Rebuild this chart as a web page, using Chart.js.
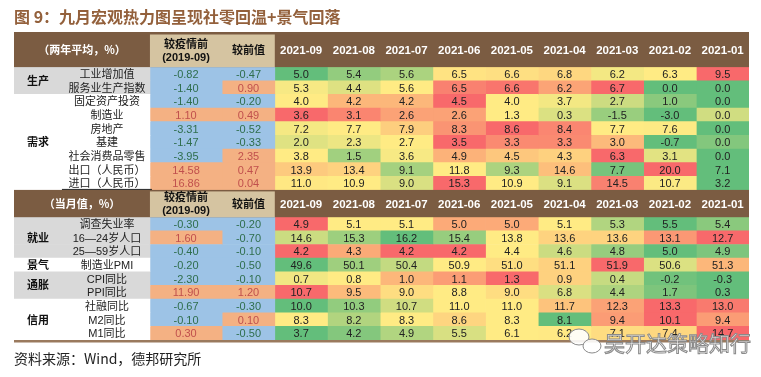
<!DOCTYPE html>
<html>
<head>
<meta charset="utf-8">
<script src="https://cdn.jsdelivr.net/npm/chart.js@4.4.1/dist/chart.umd.min.js"></script>
<style>
  html, body { margin: 0; padding: 0; background: #fff; }
  canvas { display: block; }
</style>
</head>
<body>
<canvas id="heat" width="761" height="377"></canvas>
<script>
// ---- data ----
const months = ['2021-09', '2021-08', '2021-07', '2021-06', '2021-05', '2021-04', '2021-03', '2021-02', '2021-01'];

const groups1 = ['生产', '需求'];
const groupSizes1 = [2, 7];
const items1 = ['工业增加值', '服务业生产指数', '固定资产投资', '制造业', '房地产', '基建', '社会消费品零售', '出口（人民币）', '进口（人民币）'];
const vsPre1 = [-0.82, -1.40, -1.40, 1.10, -3.31, -1.47, -3.95, 14.58, 16.86];
const vsPrev1 = [-0.47, 0.90, -0.20, 0.49, -0.52, -0.33, 2.35, 0.47, 0.04];
const heat1 = [
  [5.0, 5.4, 5.6, 6.5, 6.6, 6.8, 6.2, 6.3, 9.5],
  [5.3, 4.4, 5.6, 6.5, 6.6, 6.2, 6.7, 0.0, 0.0],
  [4.0, 4.2, 4.2, 4.5, 4.0, 3.7, 2.7, 1.0, 0.0],
  [3.6, 3.1, 2.6, 2.6, 1.3, 0.3, -1.5, -3.0, 0.0],
  [7.2, 7.7, 7.9, 8.3, 8.6, 8.4, 7.7, 7.6, 0.0],
  [2.0, 2.3, 2.7, 3.5, 3.3, 3.3, 3.0, -0.7, 0.0],
  [3.8, 1.5, 3.6, 4.9, 4.5, 4.3, 6.3, 3.1, 0.0],
  [13.9, 13.4, 9.1, 11.8, 9.3, 14.6, 7.7, 20.0, 7.1],
  [11.0, 10.9, 9.0, 15.3, 10.9, 9.1, 14.5, 10.7, 3.2]
];

const groups2 = ['就业', '景气', '通胀', '信用'];
const groupSizes2 = [3, 1, 2, 3];
const items2 = ['调查失业率', '16—24岁人口', '25—59岁人口', '制造业PMI', 'CPI同比', 'PPI同比', '社融同比', 'M2同比', 'M1同比'];
const vsPre2 = [-0.30, 1.60, -0.40, -0.20, -2.30, 11.90, -0.67, -0.10, 0.30];
const vsPrev2 = [-0.20, -0.70, -0.10, -0.50, -0.10, 1.20, -0.30, 0.10, -0.50];
const heat2 = [
  [4.9, 5.1, 5.1, 5.0, 5.0, 5.1, 5.3, 5.5, 5.4],
  [14.6, 15.3, 16.2, 15.4, 13.8, 13.6, 13.6, 13.1, 12.7],
  [4.2, 4.3, 4.2, 4.2, 4.4, 4.6, 4.8, 5.0, 4.9],
  [49.6, 50.1, 50.4, 50.9, 51.0, 51.1, 51.9, 50.6, 51.3],
  [0.7, 0.8, 1.0, 1.1, 1.3, 0.9, 0.4, -0.2, -0.3],
  [10.7, 9.5, 9.0, 8.8, 9.0, 6.8, 4.4, 1.7, 0.3],
  [10.0, 10.3, 10.7, 11.0, 11.0, 11.7, 12.3, 13.3, 13.0],
  [8.3, 8.2, 8.3, 8.6, 8.3, 8.1, 9.4, 10.1, 9.4],
  [3.7, 4.2, 4.9, 5.5, 6.1, 6.2, 7.1, 7.4, 14.7]
];
// unemployment rows: a low value is coloured red
const lowIsRed2 = [true, true, true, false, false, false, false, false, false];

// ---- layout: x in month-column units, y in row units ----
const X_CAT = 0, X_SUB = 0.91, X_PRE = 2.58, X_PREV = 3.95, X_MON = 4.95;
const X_END = X_MON + months.length;
const HEAD1 = [0, 2.5], HEAD2 = [11.5, 13.5];
const Y_END = HEAD2[1] + items2.length;

const BROWN = '#7b5c42', TAN = '#d5c4a1', GREY = '#d9d9d9';
const GREEN = [99, 190, 123], YELLOW = [255, 235, 132], RED = [248, 105, 107];
const FONT = '"Liberation Sans", "Noto Sans CJK SC", sans-serif';
const CJK = '"Noto Sans CJK SC", sans-serif';

function mix(a, b, t) {
  return 'rgb(' + a.map((v, i) => Math.round(v + (b[i] - v) * t)).join(',') + ')';
}
function heatColor(vals, v, lowIsRed) {
  const s = vals.slice().sort((a, b) => a - b);
  const lo = s[0], hi = s[s.length - 1], mid = s[Math.floor(s.length / 2)];
  const lowC = lowIsRed ? RED : GREEN, highC = lowIsRed ? GREEN : RED;
  if (v <= mid) return mid === lo ? mix(YELLOW, YELLOW, 0) : mix(lowC, YELLOW, (v - lo) / (mid - lo));
  return mix(YELLOW, highC, (v - mid) / (hi - mid));
}

function buildRows(items, groups, sizes, pre, prev, heat, lowIsRed, top) {
  const rows = [];
  let g = 0, n = 0;
  items.forEach((item, i) => {
    rows.push({ item, pre: pre[i], prev: prev[i], vals: heat[i], lowIsRed: lowIsRed ? lowIsRed[i] : false,
      y: top + i + 0.5, shaded: g % 2 === 0 });
    n++;
    if (n === sizes[g]) { g++; n = 0; }
  });
  return rows;
}
const rows = buildRows(items1, groups1, groupSizes1, vsPre1, vsPrev1, heat1, null, HEAD1[1])
  .concat(buildRows(items2, groups2, groupSizes2, vsPre2, vsPrev2, heat2, lowIsRed2, HEAD2[1]));

const signColor = v => v < 0 ? '#9dc3e6' : '#f4b183';

const datasets = [
  { data: rows.map(r => ({ y: r.y, x: [X_CAT, X_PRE] })), backgroundColor: rows.map(r => r.shaded ? GREY : '#ffffff') },
  { data: rows.map(r => ({ y: r.y, x: [X_PRE, X_PREV] })), backgroundColor: rows.map(r => signColor(r.pre)) },
  { data: rows.map(r => ({ y: r.y, x: [X_PREV, X_MON] })), backgroundColor: rows.map(r => signColor(r.prev)) }
];
months.forEach((m, j) => {
  datasets.push({
    data: rows.map(r => ({ y: r.y, x: [X_MON + j, X_MON + j + 1] })),
    backgroundColor: rows.map(r => heatColor(r.vals, r.vals[j], r.lowIsRed))
  });
});

// text centred vertically on y, using the alphabetic baseline so CJK and Latin line up
function text(ctx, str, x, y, size, family, color, opts) {
  opts = opts || {};
  ctx.font = (opts.bold ? 'bold ' : '') + size + 'px ' + family;
  ctx.fillStyle = color;
  ctx.textAlign = opts.align || 'center';
  ctx.textBaseline = 'alphabetic';
  ctx.fillText(str, x, y + size * 0.37);
}

const tablePlugin = {
  id: 'table',
  afterDatasetsDraw(chart) {
    const { ctx, scales: { x, y } } = chart;
    const px = v => x.getPixelForValue(v), py = v => y.getPixelForValue(v);
    ctx.save();

    // header bands
    [[HEAD1, '（两年平均，%）'], [HEAD2, '（当月值，%）']].forEach(([h, label]) => {
      const y0 = py(h[0]), y1 = py(h[1]), ym = (y0 + y1) / 2;
      ctx.fillStyle = BROWN;
      ctx.fillRect(px(X_CAT), y0, px(X_END) - px(X_CAT), y1 - y0);
      ctx.fillStyle = TAN;
      ctx.fillRect(px(X_PRE), y0 + 1.5, px(X_MON) - px(X_PRE), y1 - y0 - 1.5);
      text(ctx, label, px((X_CAT + X_PRE) / 2), ym, 11, CJK, '#fff', { bold: true });
      text(ctx, '较疫情前', px((X_PRE + X_PREV) / 2), ym - 6.5, 11, CJK, '#111', { bold: true });
      text(ctx, '(2019-09)', px((X_PRE + X_PREV) / 2), ym + 6.5, 11, FONT, '#111', { bold: true });
      text(ctx, '较前值', px((X_PREV + X_MON) / 2), ym, 11, CJK, '#111', { bold: true });
      months.forEach((m, j) => text(ctx, m, px(X_MON + j + 0.5), ym, 11.5, FONT, '#fff', { bold: true }));
    });

    // group labels
    [[groups1, groupSizes1, HEAD1[1]], [groups2, groupSizes2, HEAD2[1]]].forEach(([gs, sizes, top]) => {
      let start = top;
      gs.forEach((g, i) => {
        text(ctx, g, px((X_CAT + X_SUB) / 2), py(start + sizes[i] / 2), 11, CJK, '#111', { bold: true });
        start += sizes[i];
      });
    });

    // row labels and values
    rows.forEach(r => {
      const yy = py(r.y);
      text(ctx, r.item, px((X_SUB + X_PRE) / 2) + 1, yy, 11, FONT, '#222');
      text(ctx, r.pre.toFixed(2), px((X_PRE + X_PREV) / 2), yy, 11, FONT, r.pre < 0 ? '#2f6e4d' : '#c0504d');
      text(ctx, r.prev.toFixed(2), px((X_PREV + X_MON) / 2), yy, 11, FONT, r.prev < 0 ? '#2f6e4d' : '#c0504d');
      r.vals.forEach((v, j) => text(ctx, v.toFixed(1), px(X_MON + j + 0.5), yy, 11, FONT, '#222'));
    });

    // rules
    ctx.fillStyle = BROWN;
    ctx.fillRect(px(X_CAT), py(0) - 1, px(X_END) - px(X_CAT), 2);
    ctx.fillStyle = '#9a7a5e';
    ctx.fillRect(px(X_CAT), py(Y_END), px(X_END) - px(X_CAT), 2.5);
    ctx.fillStyle = '#222';
    ctx.fillRect(px(X_SUB), py(HEAD2[0]) - 1, px(X_PRE) - px(X_SUB) + 2, 1);

    // title and source
    text(ctx, '图 9：九月宏观热力图呈现社零回温+景气回落', 14, 17, 16, CJK, '#93603b', { bold: true, align: 'left' });
    text(ctx, '资料来源：Wind，德邦研究所', 14, 359, 14, CJK, '#222', { align: 'left' });

    // watermark
    ctx.strokeStyle = '#8a8a8a';
    ctx.lineWidth = 1;
    ctx.fillStyle = 'rgba(255,255,255,0.9)';
    ctx.beginPath(); ctx.ellipse(579, 337, 10, 8, 0, 0, Math.PI * 2); ctx.fill(); ctx.stroke();
    ctx.beginPath(); ctx.ellipse(592, 346, 9, 7, 0, 0, Math.PI * 2); ctx.fill(); ctx.stroke();
    ctx.font = '21px ' + CJK;
    ctx.textAlign = 'left';
    ctx.textBaseline = 'alphabetic';
    ctx.fillStyle = 'rgba(255,255,255,0.85)';
    ctx.fillText('吴开达策略知行', 604, 351);
    ctx.strokeText('吴开达策略知行', 604, 351);

    ctx.restore();
  }
};

new Chart(document.getElementById('heat'), {
  type: 'bar',
  data: { datasets },
  options: {
    indexAxis: 'y',
    responsive: false,
    animation: false,
    events: [],
    layout: { padding: { left: 14, right: 12, top: 33, bottom: 37 } },
    datasets: { bar: { grouped: false, barPercentage: 1, categoryPercentage: 1, borderWidth: 0, borderSkipped: false } },
    scales: {
      x: { type: 'linear', min: X_CAT, max: X_END, display: false, offset: false },
      y: { type: 'linear', min: 0, max: Y_END, reverse: true, display: false, offset: false, ticks: { stepSize: 5 } }
    },
    plugins: { legend: { display: false }, tooltip: { enabled: false } }
  },
  plugins: [tablePlugin]
});
</script>
</body>
</html>
